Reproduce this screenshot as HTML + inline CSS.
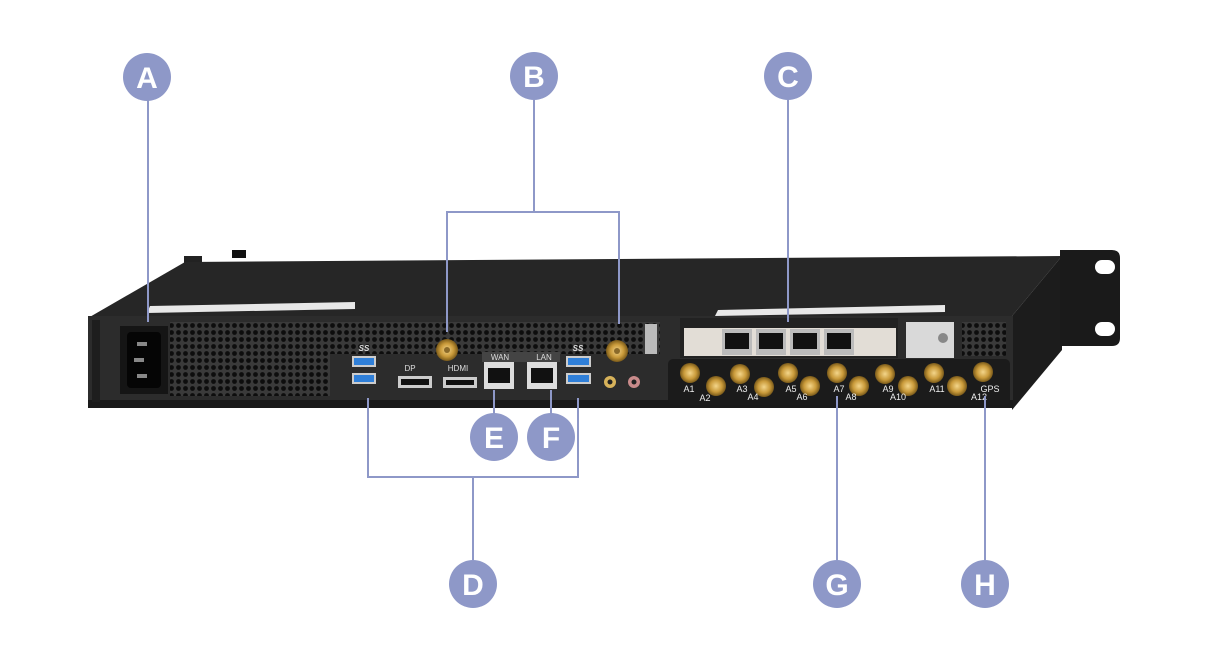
<!DOCTYPE html>
<html><head><meta charset="utf-8"><style>
html,body{margin:0;padding:0;background:#fff;width:1209px;height:660px;overflow:hidden}
svg{display:block}
.lbl{font-family:"Liberation Sans",sans-serif;font-weight:bold;font-size:30px;fill:#fff;text-anchor:middle}
.sm{font-family:"Liberation Sans",sans-serif;font-size:8px;fill:#ddd;text-anchor:middle}
</style></head><body>
<svg width="1209" height="660" viewBox="0 0 1209 660" xmlns="http://www.w3.org/2000/svg">
<defs>
<pattern id="mesh" width="7" height="7" patternUnits="userSpaceOnUse">
<rect width="7" height="7" fill="#3a3a3a"/><circle cx="3.5" cy="3.5" r="2.4" fill="#0d0d0d"/>
</pattern>
<radialGradient id="gold"><stop offset="0" stop-color="#f3d58a"/><stop offset="0.6" stop-color="#c99a3a"/><stop offset="1" stop-color="#7a5a1a"/></radialGradient>
</defs>
<!-- left ear -->
<rect x="184" y="256" width="18" height="16" fill="#222"/>
<rect x="232" y="250" width="14" height="8" fill="#111"/>
<!-- top surface -->
<polygon points="185,262 1062,256 1012,316 88,318" fill="#262626"/>
<polygon points="150,306 355,302 355,309 147,313" fill="#e8e8e8"/>
<polygon points="718,310 945,305 945,312 715,316" fill="#e8e8e8"/>
<!-- right side -->
<polygon points="1012,316 1062,256 1062,350 1012,410" fill="#1c1c1c"/>
<!-- right ear -->
<path d="M1060,250 H1112 Q1120,250 1120,258 V338 Q1120,346 1112,346 H1060 Z" fill="#1a1a1a"/>
<rect x="1095" y="260" width="20" height="14" rx="7" fill="#fff"/>
<rect x="1095" y="322" width="20" height="14" rx="7" fill="#fff"/>
<!-- front face -->
<rect x="88" y="316" width="925" height="92" fill="#2c2c2c"/>
<rect x="88" y="400" width="925" height="8" fill="#1a1a1a"/>
<rect x="92" y="320" width="8" height="82" fill="#1e1e1e"/>
<!-- mesh -->
<rect x="170" y="322" width="160" height="74" fill="url(#mesh)"/>
<rect x="330" y="322" width="330" height="32" fill="url(#mesh)"/>
<rect x="1018" y="322" width="0" height="0"/>
<rect x="962" y="322" width="44" height="34" fill="url(#mesh)"/>
<!-- power inlet -->
<rect x="120" y="326" width="48" height="68" fill="#151515"/>
<rect x="127" y="332" width="34" height="56" rx="4" fill="#050505"/>
<rect x="137" y="342" width="10" height="4" fill="#888"/><rect x="137" y="374" width="10" height="4" fill="#888"/><rect x="134" y="358" width="10" height="4" fill="#888"/>
<!-- USB left -->
<text x="364" y="351" class="sm" style="font-style:italic;font-weight:bold">SS</text>
<rect x="352" y="356" width="24" height="11" fill="#ccc"/><rect x="354" y="358" width="20" height="7" fill="#2f7fd8"/>
<rect x="352" y="373" width="24" height="11" fill="#ccc"/><rect x="354" y="375" width="20" height="7" fill="#2f7fd8"/>
<!-- DP HDMI -->
<text x="410" y="371" class="sm">DP</text>
<rect x="398" y="376" width="34" height="12" fill="#ccc"/><rect x="401" y="379" width="28" height="6" fill="#111"/>
<text x="458" y="371" class="sm">HDMI</text>
<rect x="443" y="377" width="34" height="11" fill="#ccc"/><rect x="446" y="380" width="28" height="5" fill="#111"/>
<!-- WAN LAN -->
<rect x="482" y="352" width="78" height="10" fill="#444"/>
<text x="500" y="360" class="sm">WAN</text><text x="544" y="360" class="sm">LAN</text>
<rect x="484" y="362" width="30" height="27" fill="#ddd"/><rect x="488" y="368" width="22" height="15" fill="#111"/>
<rect x="527" y="362" width="30" height="27" fill="#ddd"/><rect x="531" y="368" width="22" height="15" fill="#111"/>
<!-- USB right -->
<text x="578" y="351" class="sm" style="font-style:italic;font-weight:bold">SS</text>
<rect x="566" y="356" width="25" height="11" fill="#ccc"/><rect x="568" y="358" width="21" height="7" fill="#2f7fd8"/>
<rect x="566" y="373" width="25" height="11" fill="#ccc"/><rect x="568" y="375" width="21" height="7" fill="#2f7fd8"/>
<!-- antennas -->
<circle cx="447" cy="350" r="11" fill="url(#gold)"/><circle cx="447" cy="350" r="3" fill="#8a6a2a"/>
<circle cx="617" cy="351" r="11" fill="url(#gold)"/><circle cx="617" cy="351" r="3" fill="#8a6a2a"/>
<!-- audio -->
<circle cx="610" cy="382" r="6" fill="#d7b25a"/><circle cx="610" cy="382" r="2.5" fill="#222"/>
<circle cx="634" cy="382" r="6" fill="#c98b8b"/><circle cx="634" cy="382" r="2.5" fill="#222"/>
<rect x="645" y="324" width="12" height="30" fill="#bbb"/>
<!-- card panel -->
<rect x="680" y="318" width="218" height="40" fill="#222"/>
<rect x="684" y="328" width="212" height="28" fill="#e2ddd6"/>
<rect x="722" y="329" width="30" height="26" fill="#bbb"/><rect x="725" y="333" width="24" height="16" fill="#111"/>
<rect x="756" y="329" width="30" height="26" fill="#bbb"/><rect x="759" y="333" width="24" height="16" fill="#111"/>
<rect x="790" y="329" width="30" height="26" fill="#bbb"/><rect x="793" y="333" width="24" height="16" fill="#111"/>
<rect x="824" y="329" width="30" height="26" fill="#bbb"/><rect x="827" y="333" width="24" height="16" fill="#111"/>
<rect x="906" y="322" width="48" height="36" fill="#d9d9d9"/><circle cx="943" cy="338" r="5" fill="#888"/>
<!-- antenna plate -->
<rect x="668" y="359" width="342" height="46" rx="5" fill="#1b1b1b"/>
<g fill="url(#gold)">
<circle cx="690" cy="373" r="10"/><circle cx="716" cy="386" r="10"/><circle cx="740" cy="374" r="10"/><circle cx="764" cy="387" r="10"/>
<circle cx="788" cy="373" r="10"/><circle cx="810" cy="386" r="10"/><circle cx="837" cy="373" r="10"/><circle cx="859" cy="386" r="10"/>
<circle cx="885" cy="374" r="10"/><circle cx="908" cy="386" r="10"/><circle cx="934" cy="373" r="10"/><circle cx="957" cy="386" r="10"/>
<circle cx="983" cy="372" r="10"/>
</g>
<g class="sm" style="font-size:9px;fill:#eee">
<text x="689" y="392">A1</text><text x="705" y="401">A2</text><text x="742" y="392">A3</text><text x="753" y="400">A4</text>
<text x="791" y="392">A5</text><text x="802" y="400">A6</text><text x="839" y="392">A7</text><text x="851" y="400">A8</text>
<text x="888" y="392">A9</text><text x="898" y="400">A10</text><text x="937" y="392">A11</text><text x="979" y="400">A12</text><text x="990" y="392">GPS</text>
</g>
<!-- connectors -->
<g stroke="#8e98c8" stroke-width="2" fill="none">
<line x1="148" y1="100" x2="148" y2="322"/>
<polyline points="447,332 447,212 619,212 619,324"/><line x1="534" y1="100" x2="534" y2="212"/>
<line x1="788" y1="100" x2="788" y2="322"/>
<polyline points="368,398 368,477 578,477 578,398"/><line x1="473" y1="477" x2="473" y2="560"/>
<line x1="494" y1="390" x2="494" y2="414"/><line x1="551" y1="390" x2="551" y2="414"/>
<line x1="837" y1="396" x2="837" y2="560"/><line x1="985" y1="396" x2="985" y2="560"/>
</g>
<g fill="#8e98c8">
<circle cx="147" cy="77" r="24"/><circle cx="534" cy="76" r="24"/><circle cx="788" cy="76" r="24"/>
<circle cx="494" cy="437" r="24"/><circle cx="551" cy="437" r="24"/>
<circle cx="473" cy="584" r="24"/><circle cx="837" cy="584" r="24"/><circle cx="985" cy="584" r="24"/>
</g>
<g class="lbl">
<text x="147" y="88">A</text><text x="534" y="87">B</text><text x="788" y="87">C</text>
<text x="494" y="448">E</text><text x="551" y="448">F</text>
<text x="473" y="595">D</text><text x="837" y="595">G</text><text x="985" y="595">H</text>
</g>
</svg>
</body></html>
